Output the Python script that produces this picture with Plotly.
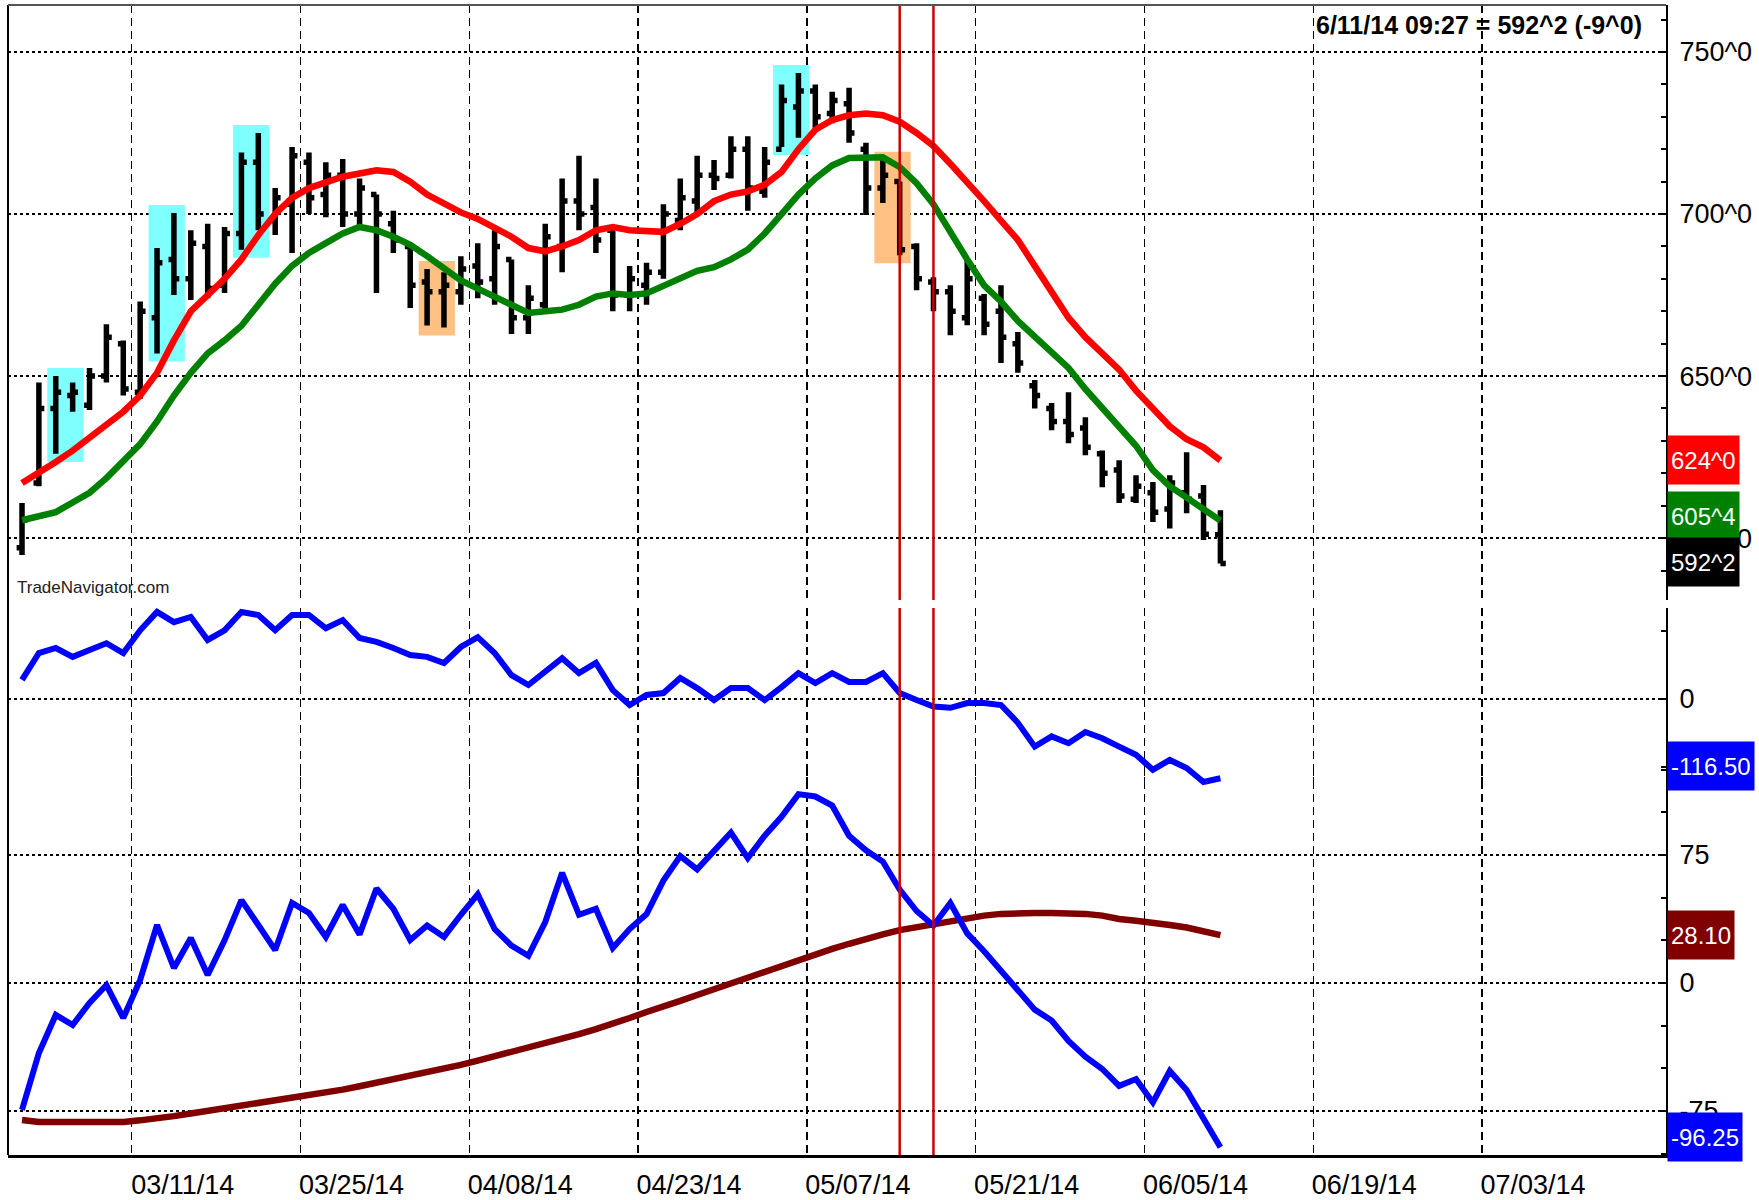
import plotly.graph_objects as go
import pandas as pd

# ---------------- data ----------------
bar_open = [597, 617, 640, 644, 641, 650, 660, 645, 668, 686, 680, 690, 678, 694, 716, 698, 703, 716, 706, 712,
            700, 706, 697, 690, 679, 676, 676, 684, 680, 686, 668, 672, 690, 704, 702, 695, 675, 678, 682, 698,
            704, 712, 712, 720, 707, 720, 733, 738, 731, 734, 720, 708, 710, 690, 679, 676, 668, 674, 670, 660,
            647, 640, 636, 634, 626, 621, 612, 614, 609, 614, 613, 601]
bar_high = [610.8, 648, 650, 648, 652.5, 666, 661, 673, 689.5, 700.3, 695, 697, 696, 719, 725, 708, 720.7, 719, 716, 717,
            711, 706, 701, 690, 683, 682, 687, 691, 695, 686, 678, 697, 711, 718, 711, 695, 684, 685, 703, 711,
            718, 716.7, 724, 724, 720.7, 740, 743.5, 740, 737.7, 739, 722, 716.7, 710, 691, 680.5, 678, 686, 675.3, 678, 663.6,
            648.8, 641.7, 645, 637.3, 627, 624, 619.4, 617.3, 619.4, 626.5, 616.4, 608.6]
bar_low = [594.8, 616, 626, 639, 639.5, 648, 644, 643, 657, 675, 673.5, 674, 675.6, 689, 695, 693.5, 688, 700, 699, 696,
           696, 675.6, 688, 671, 665.6, 665, 672, 674, 672, 663, 663, 670, 682, 695, 688, 670, 670, 672, 680, 695,
           700, 707.4, 711, 701, 705, 720.7, 723.5, 726.5, 728, 722, 699.7, 703.4, 687.3, 676.5, 670, 662.6, 665.7, 662.6, 654, 651,
           640, 633.3, 629.3, 625.6, 615.7, 610.8, 610.8, 605, 603, 607.7, 599.4, 592.2]
bar_close = [605.6, 640, 645, 645, 650, 662, 646, 670, 685, 680, 691, 677, 694, 716, 700, 705, 718, 705, 712, 700,
             708, 700, 692, 678, 676, 678, 683, 679, 690, 668, 674, 693, 704, 700, 692, 675, 680, 682, 700, 705,
             712, 711, 720, 708, 716, 735, 738, 730, 735, 725, 708, 712, 689, 680, 676, 670, 680, 666, 662, 654,
             644, 636, 632, 628, 620, 613, 616, 608, 617, 612, 601.2, 592.2]

ma_red = [617, 620, 623.5, 627, 631, 635, 639, 644, 651, 661, 670, 675, 680, 686, 693.5, 700, 705, 708, 710, 711.5,
          712.5, 713.5, 713, 710, 706, 703, 700.5, 698.5, 696, 693, 689.5, 688.5, 690, 692, 695, 696, 695, 694.5, 694.5, 697,
          700, 704, 706, 707, 709, 713, 720, 726, 729, 730.5, 731, 730.5, 728.5, 725, 721, 715.5, 710, 704, 698, 692,
          684, 676, 668, 662, 657, 652, 645.5, 640, 634.5, 630.5, 628, 624]
ma_green = [605.5, 606.5, 608, 611, 614, 618.5, 623.5, 629, 636, 644, 651, 657, 661, 665.5, 672, 678.5, 684, 688, 691, 694,
            696, 695, 693, 690.5, 687, 683, 679.5, 677, 674.5, 671.5, 669.5, 670, 670.5, 672, 674.5, 675.5, 675, 675.5, 678, 680.5,
            682.5, 683.6, 686, 689, 694, 700, 706, 711, 715, 717.3, 717.5, 717.5, 714.5, 709.5, 703, 694, 686, 678, 673, 667,
            662, 657, 652.5, 646, 640, 634, 628.5, 621, 616, 612.5, 609, 605.4]

osc_mid = [28, 67.6, 75, 62, 72, 82, 67.6, 101, 128, 113, 120.6, 86.8, 101, 128, 123.5, 101, 123.5, 123.5, 104, 116,
           89.7, 84, 75, 64.7, 62, 53, 76.5, 91, 67.6, 35, 20.6, 40, 60, 38, 53, 13, -8.8, 5.9, 8.8, 30.9,
           16, -1.5, 16, 16, -1.5, 17.6, 38, 23.5, 38, 25, 25, 38, 8.8, -1.5, -11, -13, -6, -6, -8.8, -35,
           -70, -55, -65, -48.5, -57.8, -70, -82, -104, -89.7, -101.5, -122, -116.5]

osc_fast = [-74.4, -41, -18.7, -24.6, -11.7, -1.2, -20.5, 1.8, 34, 8.8, 26.4, 4.7, 25, 48.6, 34, 19.3, 46.9, 41, 27, 45.7,
            28.4, 55.4, 43.5, 25.2, 33.7, 27, 40, 52, 31.6, 21.9, 15.9, 35.7, 64.6, 40, 43.5, 20.5, 31.6, 40.4, 60, 74.4,
            66.6, 77.8, 88.2, 73.2, 86.3, 97.4, 110.7, 109.3, 104, 86.3, 77.8, 71.2, 54.7, 42.2, 33.7, 46.9, 29.1, 18.6, 7.4, -3.7,
            -15.6, -22, -34, -43.2, -50.4, -60.3, -56.3, -70, -51.6, -62.7, -80, -96.25]
osc_slow = [-80.3, -81.4, -81.5, -81.5, -81.5, -81.5, -81.4, -80.5, -79.5, -78, -76.5, -75, -73.5, -72, -70.5, -69, -67.5, -66, -64.3, -62.5,
            -60.5, -58.5, -56.5, -54.5, -52.3, -50, -48, -45.5, -43, -40.5, -38, -35.5, -33, -30, -27, -24, -20.5, -17, -14, -10.5,
            -7, -3.5, -0.5, 3, 6.5, 10, 13.5, 17, 20, 23, 26, 28.5, 31, 32.8, 34.3, 36, 38, 39.5, 40.5, 41,
            41, 41, 41, 40.5, 39.5, 37.5, 36.5, 35.5, 34, 32.5, 30.5, 28.1]

tick_labels = ['03/11/14', '03/25/14', '04/08/14', '04/23/14', '05/07/14', '05/21/14', '06/05/14', '06/19/14', '07/03/14']
marker_dates = ['05/14/14', '05/16/14']
highlights = [(2, 3, 'cyan'), (8, 9, 'cyan'), (13, 14, 'cyan'), (24, 25, 'orange'), (45, 46, 'cyan'), (51, 52, 'orange')]
price_ticks = [600, 650, 700, 750]
price_tick_text = ['600^0', '650^0', '700^0', '750^0']
header_text = '6/11/14 09:27 = 592^2 (-9^0)'
red_label, green_label, close_label = '624^0', '605^4', '592^2'
mid_label, fast_label, slow_label = '-116.50', '-96.25', '28.10'

# ---------------- calendar (trading days) ----------------
days = pd.bdate_range('2014-02-28', '2014-07-31')
days = days[~days.isin(pd.to_datetime(['2014-04-18', '2014-05-26', '2014-07-04']))]
day_text = [d.strftime('%m/%d/%y') for d in days]
n = len(bar_close)
xs = list(range(n))
grid_x = [day_text.index(t) - 0.5 for t in tick_labels]
mark_x = [day_text.index(t) for t in marker_dates]

# ---------------- layout geometry ----------------
W, H = 1759, 1200
ML, MR, MT, MB = 8, 93, 5, 45
PH = H - MT - MB


def dom(top_px, bot_px):
    return [(H - MB - bot_px) / PH, (H - MB - top_px) / PH]


FONT = 'Liberation Sans, Arial, sans-serif'
COL = dict(cyan='#80ffff', orange='#ffc183')

fig = go.Figure()
fig.add_trace(go.Ohlc(x=xs, open=bar_open, high=bar_high, low=bar_low, close=bar_close,
                      increasing=dict(line=dict(color='black', width=5.5)),
                      decreasing=dict(line=dict(color='black', width=5.5)),
                      tickwidth=0.32, xaxis='x', yaxis='y', showlegend=False))
fig.add_trace(go.Scatter(x=xs, y=ma_red, mode='lines', line=dict(color='#ff0000', width=6.5),
                         xaxis='x', yaxis='y', showlegend=False))
fig.add_trace(go.Scatter(x=xs, y=ma_green, mode='lines', line=dict(color='#008000', width=6.5),
                         xaxis='x', yaxis='y', showlegend=False))
fig.add_trace(go.Scatter(x=xs, y=osc_mid, mode='lines', line=dict(color='#0000ff', width=6),
                         xaxis='x2', yaxis='y2', showlegend=False))
fig.add_trace(go.Scatter(x=xs, y=osc_slow, mode='lines', line=dict(color='#800000', width=6.5),
                         xaxis='x3', yaxis='y3', showlegend=False))
fig.add_trace(go.Scatter(x=xs, y=osc_fast, mode='lines', line=dict(color='#0000ff', width=6),
                         xaxis='x3', yaxis='y3', showlegend=False))

xrange = [-0.83, 97.4]
xgrid = dict(range=xrange, tickmode='array', tickvals=grid_x, showgrid=True, gridcolor='black',
             griddash='8px,5px', gridwidth=1.3, zeroline=False, ticks='', fixedrange=True, automargin=False)
ygrid = dict(side='right', showgrid=True, gridcolor='black', griddash='dot', gridwidth=2, zeroline=False,
             ticks='inside', ticklen=6, tickwidth=2, tickcolor='black', showline=True, linecolor='black',
             linewidth=2, tickfont=dict(family=FONT, size=27, color='black'), ticklabelstandoff=6,
             automargin=False, fixedrange=True)

fig.update_layout(
    width=W, height=H, autosize=False,
    margin=dict(l=ML, r=MR, t=MT, b=MB, autoexpand=False),
    paper_bgcolor='white', plot_bgcolor='rgba(0,0,0,0)',
    font=dict(family=FONT, color='black'),
    showlegend=False,
    xaxis=dict(**xgrid, anchor='y', showticklabels=False, rangeslider=dict(visible=False)),
    xaxis2=dict(**xgrid, anchor='y2', matches='x', showticklabels=False),
    xaxis3=dict(**xgrid, anchor='y3', matches='x', ticktext=tick_labels, showticklabels=True,
                tickfont=dict(family=FONT, size=27, color='black'), ticklabelshift=51,
                ticklabelstandoff=4, showline=True, linecolor='black', linewidth=3),
    yaxis=dict(**ygrid, anchor='x', domain=dom(MT, 600), range=[580.9, 764.5],
               tickmode='array', tickvals=price_ticks, ticktext=price_tick_text,
               minor=dict(dtick=10, tick0=0, ticks='inside', ticklen=5, tickcolor='black', showgrid=False)),
    yaxis2=dict(**ygrid, anchor='x2', domain=dom(608, 790), range=[-133.8, 133.8],
                tickmode='array', tickvals=[0], ticktext=['0'],
                minor=dict(dtick=100, tick0=0, ticks='inside', ticklen=5, tickcolor='black', showgrid=False)),
    yaxis3=dict(**ygrid, anchor='x3', domain=dom(768, H - MB), range=[-100.8, 126.0],
                tickmode='array', tickvals=[-75, 0, 75], ticktext=['-75', '0', '75'],
                minor=dict(dtick=25, tick0=0, ticks='inside', ticklen=5, tickcolor='black', showgrid=False)),
)

# highlight boxes around bars
pad = 2.5
for s, e, c in highlights:
    fig.add_shape(type='rect', xref='x', yref='y', layer='between',
                  x0=s - 0.5, x1=e + 0.65,
                  y0=min(bar_low[s:e + 1]) - pad, y1=max(bar_high[s:e + 1]) + pad,
                  fillcolor=COL[c], line=dict(width=0))

# red marker verticals
low_top = dom(608, H - MB)[1]
for mx in mark_x:
    fig.add_shape(type='line', xref='x', yref='y domain', x0=mx, x1=mx, y0=0, y1=1,
                  line=dict(color='#cc0000', width=2.5))
    fig.add_shape(type='line', xref='x3', yref='paper', x0=mx, x1=mx, y0=0, y1=low_top,
                  line=dict(color='#cc0000', width=2.5))

# frame lines
fig.add_shape(type='line', xref='paper', yref='paper', x0=0, x1=0, y0=0, y1=1,
              line=dict(color='black', width=2))
fig.add_shape(type='line', xref='paper', yref='paper', x0=0, x1=1, y0=1, y1=1,
              line=dict(color='#555555', width=2))

# header text
fig.add_annotation(xref='paper', yref='paper', x=(1644 - ML) / (W - ML - MR), y=(H - MB - 25) / PH,
                   xanchor='right', yanchor='middle', text='<b>' + header_text + '</b>', showarrow=False,
                   font=dict(family=FONT, size=25, color='black'))
fig.add_annotation(xref='paper', yref='paper', x=0.004, y=(H - MB - 587) / PH,
                   xanchor='left', yanchor='middle', text='TradeNavigator.com', showarrow=False,
                   font=dict(family=FONT, size=17, color='#222222'))


def value_box(yref, yval, text, bg, yshift=0):
    fig.add_annotation(xref='paper', yref=yref, x=1, y=yval, xanchor='left', yanchor='middle',
                       xshift=1, yshift=yshift, text=text, showarrow=False, bgcolor=bg, borderpad=3,
                       height=42, font=dict(family=FONT, size=24, color='white'))


value_box('y', ma_red[-1], red_label, '#ff0000')
value_box('y', ma_green[-1], green_label, '#008000', yshift=4.5)
value_box('y', bar_close[-1], close_label, '#000000', yshift=1)
value_box('y2', osc_mid[-1], mid_label, '#0000ff', yshift=12)
value_box('y3', osc_slow[-1], slow_label, '#800000')
value_box('y3', osc_fast[-1], fast_label, '#0000ff', yshift=10)

fig.write_html('out.html', config={'displayModeBar': False, 'staticPlot': True},
               post_script="document.body.style.margin='0';document.body.style.overflow='hidden';")
